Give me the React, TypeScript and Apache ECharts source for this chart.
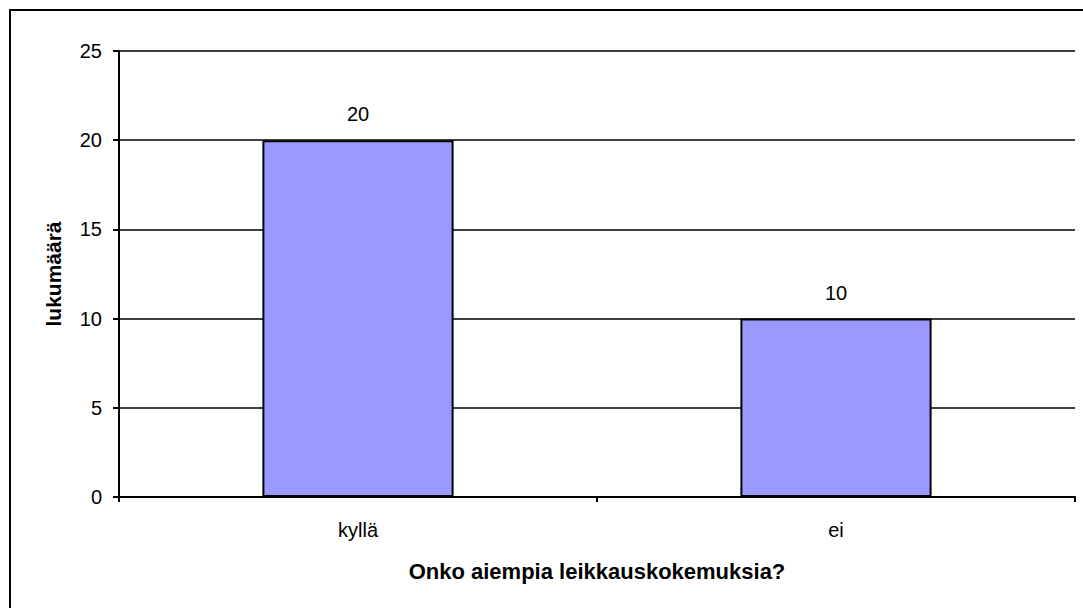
import React, { useEffect, useRef } from "react";
import * as echarts from "echarts";

const categories = ["kyllä", "ei"];
const counts = [20, 10];
const yTicks = { min: 0, max: 25, interval: 5 };
const xTitle = "Onko aiempia leikkauskokemuksia?";
const yTitle = "lukumäärä";

const FONT = "'Liberation Sans', Arial, sans-serif";

export default function App() {
  const ref = useRef<HTMLDivElement>(null);

  useEffect(() => {
    document.body.style.margin = "0";
    const chart = echarts.init(ref.current!, null, { renderer: "svg" });
    chart.setOption({
      animation: false,
      backgroundColor: "#fff",
      textStyle: { fontFamily: FONT },
      grid: { left: 119, right: 8, top: 51, bottom: 111, containLabel: false },
      graphic: [
        {
          type: "rect",
          shape: { x: 10, y: 10, width: 1100, height: 640 },
          style: { fill: "none", stroke: "#000", lineWidth: 2 },
          silent: true,
          z: 0,
        },
        {
          type: "text",
          x: 597,
          y: 571,
          style: {
            text: xTitle,
            font: `bold 22px ${FONT}`,
            fill: "#000",
            align: "center",
            verticalAlign: "middle",
          },
        },
        {
          type: "text",
          x: 53,
          y: 274,
          rotation: Math.PI / 2,
          style: {
            text: yTitle,
            font: `bold 21px ${FONT}`,
            fill: "#000",
            align: "center",
            verticalAlign: "middle",
          },
        },
      ],
      xAxis: {
        type: "category",
        data: categories,
        boundaryGap: true,
        axisLine: { lineStyle: { color: "#000", width: 2 } },
        axisTick: { show: true, alignWithLabel: false, length: 5, lineStyle: { color: "#000", width: 2 } },
        axisLabel: { color: "#000", fontSize: 20, margin: 23, fontFamily: FONT },
      },
      yAxis: {
        type: "value",
        min: yTicks.min,
        max: yTicks.max,
        interval: yTicks.interval,
        axisLine: { show: true, lineStyle: { color: "#000", width: 2 } },
        axisTick: { show: true, length: 6, lineStyle: { color: "#000", width: 2 } },
        axisLabel: { color: "#000", fontSize: 20, margin: 17, fontFamily: FONT },
        splitLine: { show: true, lineStyle: { color: "#000", width: 1.5 } },
      },
      series: [
        {
          type: "bar",
          data: counts,
          barWidth: "40%",
          itemStyle: { color: "#9999FF", borderColor: "#000", borderWidth: 2 },
          label: {
            show: true,
            position: "top",
            distance: 16,
            color: "#000",
            fontSize: 20,
            fontFamily: FONT,
          },
        },
      ],
    });
    return () => chart.dispose();
  }, []);

  return <div ref={ref} style={{ width: 1083, height: 608 }} />;
}
